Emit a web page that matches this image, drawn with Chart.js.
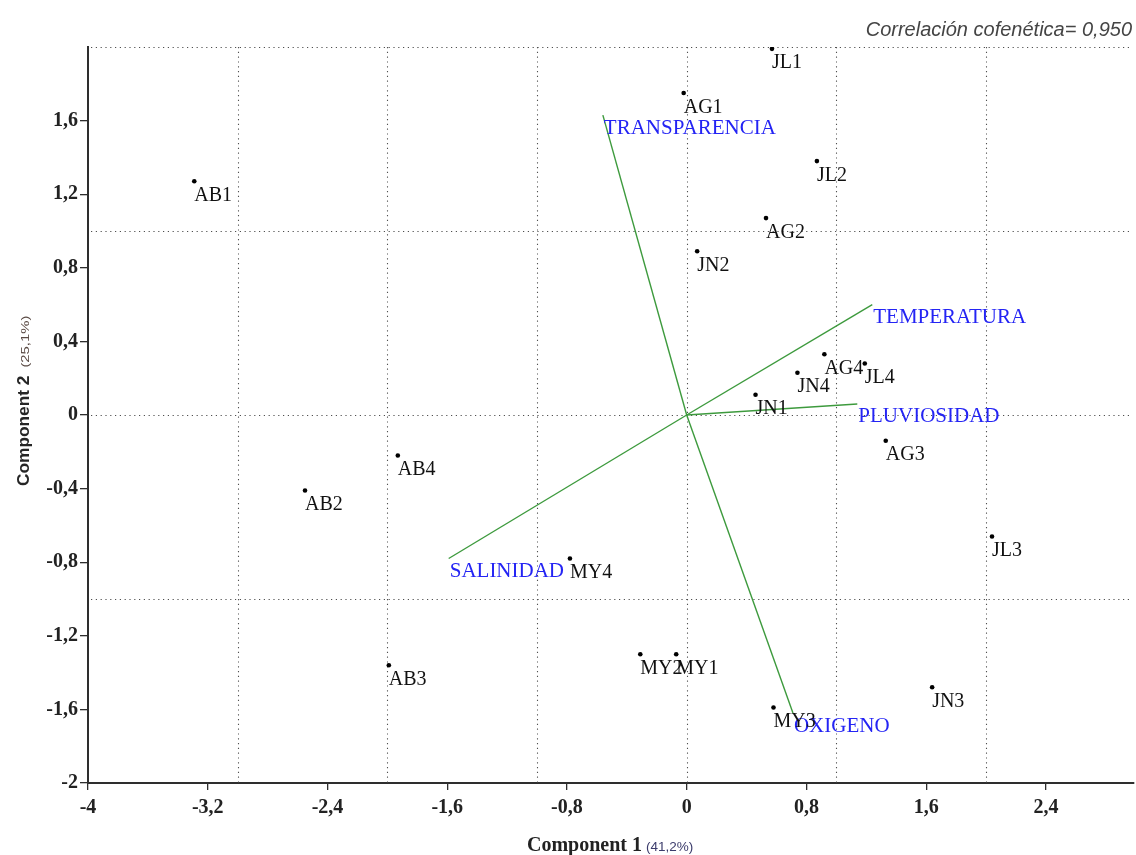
<!DOCTYPE html>
<html>
<head>
<meta charset="utf-8">
<script src="https://cdn.jsdelivr.net/npm/chart.js@4.4.1/dist/chart.umd.min.js"></script>
<style>
  html, body { margin: 0; padding: 0; background: #ffffff; }
  #wrap { width: 1136px; height: 855px; }
</style>
</head>
<body>
<div id="wrap"><canvas id="biplot" width="1136" height="855"></canvas></div>
<script>
// Sampling sites (scores on components 1 and 2)
const siteNames = ['AB1','AB2','AB3','AB4','MY1','MY2','MY3','MY4','JN1','JN2','JN3','JN4','JL1','JL2','JL3','JL4','AG1','AG2','AG3','AG4'];
const siteComp1 = [-3.29,-2.55,-1.99,-1.93,-0.07,-0.31,0.58,-0.78,0.46,0.07,1.64,0.74,0.57,0.87,2.04,1.19,-0.02,0.53,1.33,0.92];
const siteComp2 = [1.27,-0.41,-1.36,-0.22,-1.30,-1.30,-1.59,-0.78,0.11,0.89,-1.48,0.23,1.99,1.38,-0.66,0.28,1.75,1.07,-0.14,0.33];

// Environmental variables (loading vectors)
const varNames = ['TRANSPARENCIA','TEMPERATURA','PLUVIOSIDAD','SALINIDAD','OXIGENO'];
const varComp1 = [-0.56,1.24,1.14,-1.59,0.71];
const varComp2 = [1.63,0.60,0.06,-0.78,-1.62];

// Axis ticks and reference grid
const xTickValues = [-4,-3.2,-2.4,-1.6,-0.8,0,0.8,1.6,2.4];
const yTickValues = [-2,-1.6,-1.2,-0.8,-0.4,0,0.4,0.8,1.2,1.6];
const xGridValues = [-3,-2,-1,0,1,2];
const yGridValues = [-1,0,1,2];

const cophenetic = 'Correlación cofenética= 0,950';
const xTitle = 'Component 1', xPct = '(41,2%)';
const yTitle = 'Component 2', yPct = '(25,1%)';

const fmt = v => {
  const r = Math.round(v * 10) / 10;
  if (Number.isInteger(r)) return String(r);
  return r.toFixed(1).replace('.', ',');
};

const siteData = siteNames.map((n, i) => ({ x: siteComp1[i], y: siteComp2[i] }));

const vectorSets = varNames.map((n, i) => ({
  type: 'line',
  label: n,
  data: [{ x: 0, y: 0 }, { x: varComp1[i], y: varComp2[i] }],
  showLine: true,
  borderColor: '#3d9a3d',
  borderWidth: 1.4,
  pointRadius: 0,
  fill: false,
  tension: 0
}));

const dottedGrid = {
  id: 'dottedGrid',
  beforeDatasetsDraw(chart) {
    const { ctx, chartArea: a, scales: { x, y } } = chart;
    ctx.save();
    ctx.strokeStyle = '#505050';
    ctx.lineWidth = 1.1;
    ctx.setLineDash([1.2, 3.6]);
    xGridValues.forEach(v => {
      const px = Math.round(x.getPixelForValue(v)) + 0.5;
      ctx.beginPath(); ctx.moveTo(px, a.top); ctx.lineTo(px, a.bottom); ctx.stroke();
    });
    yGridValues.forEach(v => {
      const py = Math.round(y.getPixelForValue(v)) + 0.5;
      ctx.beginPath(); ctx.moveTo(a.left + 3, py); ctx.lineTo(a.right - 4, py); ctx.stroke();
    });
    ctx.restore();
  }
};

const markLabels = {
  id: 'markLabels',
  afterDatasetsDraw(chart) {
    const { ctx } = chart;
    ctx.save();
    ctx.textAlign = 'left';
    ctx.textBaseline = 'alphabetic';
    // variable names at the tip of each vector
    ctx.font = '21px "Liberation Serif", "Times New Roman", serif';
    ctx.fillStyle = '#2424f4';
    varNames.forEach((n, i) => {
      const pt = chart.getDatasetMeta(i + 1).data[1];
      ctx.fillText(n, pt.x + 1, pt.y + 18.5);
    });
    // site names
    ctx.font = '20px "Liberation Serif", "Times New Roman", serif';
    ctx.fillStyle = '#111111';
    const meta = chart.getDatasetMeta(0);
    siteNames.forEach((n, i) => {
      const pt = meta.data[i];
      ctx.fillText(n, pt.x, pt.y + 19.5);
    });
    ctx.restore();
  }
};

const titles = {
  id: 'titles',
  afterDraw(chart) {
    const { ctx } = chart;
    ctx.save();
    ctx.textBaseline = 'alphabetic';
    // cophenetic correlation, top right
    ctx.font = 'italic 20px "Liberation Sans", Arial, sans-serif';
    ctx.fillStyle = '#454545';
    ctx.textAlign = 'right';
    ctx.fillText(cophenetic, 1132, 36);

    // x axis title
    ctx.textAlign = 'left';
    ctx.font = 'bold 20px "Liberation Serif", "Times New Roman", serif';
    ctx.fillStyle = '#222222';
    ctx.fillText(xTitle, 527, 851);
    const w1 = ctx.measureText(xTitle).width;
    ctx.font = '13.5px "Liberation Sans", Arial, sans-serif';
    ctx.fillStyle = '#3c3c6c';
    ctx.fillText(xPct, 527 + w1 + 4, 851);

    // y axis title (rotated)
    ctx.translate(29, 486);
    ctx.rotate(-Math.PI / 2);
    ctx.save();
    ctx.scale(1.08, 1);
    ctx.font = 'bold 16px "Liberation Sans", Arial, sans-serif';
    ctx.fillStyle = '#262626';
    ctx.fillText(yTitle, 0, 0);
    const w2 = ctx.measureText(yTitle).width * 1.08;
    ctx.restore();
    ctx.font = '11px "Liberation Sans", Arial, sans-serif';
    ctx.fillStyle = '#5a4a44';
    ctx.translate(w2 + 8, 0);
    ctx.scale(1.35, 1);
    ctx.fillText(yPct, 0, 0);
    ctx.restore();
  }
};

const axisColor = '#2e2e2e';
const tickFont = { family: '"Liberation Serif", "Times New Roman", serif', size: 20, weight: 'bold' };

new Chart(document.getElementById('biplot'), {
  type: 'scatter',
  data: {
    datasets: [{
      label: 'Sitios',
      data: siteData,
      pointRadius: 2.3,
      pointHoverRadius: 2.3,
      pointBackgroundColor: '#000000',
      pointBorderWidth: 0,
      showLine: false
    }, ...vectorSets]
  },
  options: {
    responsive: false,
    animation: false,
    events: [],
    layout: { padding: { top: 47, right: 0, left: 0, bottom: 0 } },
    plugins: { legend: { display: false }, tooltip: { enabled: false } },
    scales: {
      x: {
        type: 'linear',
        min: -4,
        max: 2.9867,
        afterBuildTicks: s => { s.ticks = xTickValues.map(v => ({ value: v })); },
        afterFit: s => { s.height = 72; },
        border: { display: true, color: axisColor, width: 2 },
        grid: { display: true, drawOnChartArea: false, drawTicks: true, tickLength: 7, color: axisColor, lineWidth: 1.3 },
        ticks: { callback: v => fmt(v), font: tickFont, color: '#222222', padding: 6, maxRotation: 0, autoSkip: false }
      },
      y: {
        type: 'linear',
        min: -2,
        max: 2,
        afterBuildTicks: s => { s.ticks = yTickValues.map(v => ({ value: v })); },
        afterFit: s => { s.width = 88; },
        border: { display: true, color: axisColor, width: 2 },
        grid: { display: true, drawOnChartArea: false, drawTicks: true, tickLength: 8, color: axisColor, lineWidth: 1.3 },
        ticks: { callback: v => fmt(v), font: tickFont, color: '#222222', padding: 2, autoSkip: false }
      }
    }
  },
  plugins: [dottedGrid, markLabels, titles]
});
</script>
</body>
</html>
